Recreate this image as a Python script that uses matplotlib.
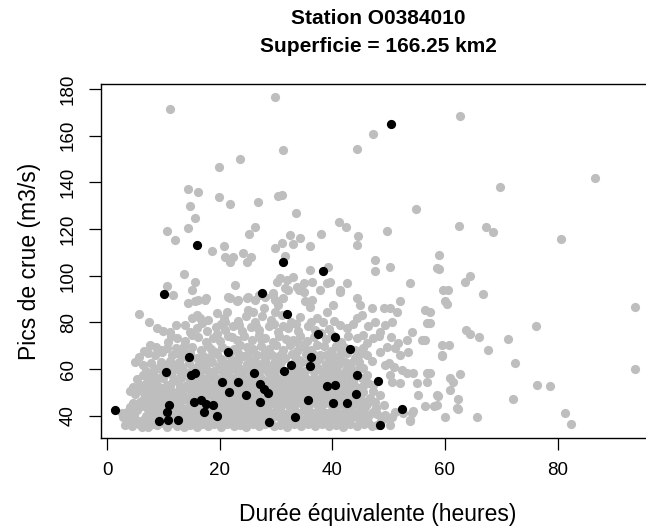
import matplotlib
matplotlib.use('Agg')
import matplotlib.pyplot as plt

# black points (highlighted events)
black_x = [10.2, 27.5, 14.6, 21.5, 10.4, 14.9, 15.7, 26.1, 20.4, 23.3, 21.7, 24.7, 27.2, 27.8,
           28.5, 27.1, 1.4, 11.0, 10.7, 15.5, 16.7, 17.5, 18.9, 17.2, 19.6, 9.3, 10.9, 12.6,
           28.8, 31.3, 38.4, 32.0, 37.4, 40.4, 43.1, 36.2, 36.0, 32.6, 31.4, 44.4, 48.1, 39.0,
           40.4, 35.6, 44.2, 40.1, 42.6, 52.3, 33.4, 48.4, 50.4, 16.0]
black_y = [92.4, 92.7, 65.3, 67.5, 58.8, 57.4, 58.3, 58.3, 54.4, 54.4, 50.4, 48.9, 53.6, 51.4,
           49.7, 45.9, 42.7, 44.6, 41.7, 45.9, 46.7, 45.1, 44.6, 41.7, 40.1, 37.7, 38.2, 38.4,
           37.5, 106.1, 102.2, 83.7, 75.0, 73.7, 68.8, 65.1, 61.5, 61.7, 59.1, 57.4, 55.0, 52.8,
           53.4, 46.9, 49.3, 45.3, 45.7, 42.9, 39.7, 36.0, 165.2, 113.4]

# grey points, listed by rough height band
gray_row_a = [(3.2, 36.1), (4.4, 35.6), (5.6, 36.4), (6.2, 35.4), (7.3, 35.4), (8.3, 36.6), (8.8, 36.1),
              (10.6, 35.4), (11.6, 36.8), (12.4, 35.5), (13.6, 35.4), (14.7, 36.1), (15.9, 35.4),
              (16.8, 36.5), (17.9, 35.6), (19.0, 36.3), (20.2, 35.4), (21.3, 36.7), (22.5, 35.7),
              (23.6, 36.2), (24.7, 35.4), (25.9, 36.6), (27.0, 35.6), (28.1, 36.4), (29.6, 35.5),
              (30.8, 36.2), (32.0, 35.4), (33.2, 36.5), (34.5, 35.7), (35.7, 36.3), (36.9, 35.5),
              (38.2, 36.6), (39.4, 35.6), (40.6, 36.2), (41.9, 35.4), (43.1, 36.4), (44.4, 35.7),
              (45.7, 36.5), (47.0, 35.5), (47.9, 36.1), (50.3, 36.1), (53.8, 37.6), (82.4, 36.4)]
gray_row_b = [(2.9, 39.7), (4.1, 39.0), (5.2, 38.0), (6.4, 38.3), (7.6, 39.0), (9.0, 38.6), (10.2, 39.3),
              (12.4, 37.6), (13.4, 39.2), (14.2, 38.3), (15.4, 39.0), (16.6, 38.0), (17.8, 39.4),
              (18.9, 38.2), (20.4, 38.9), (21.7, 37.9), (22.9, 39.3), (24.1, 38.3), (25.4, 39.1),
              (26.6, 38.0), (27.9, 39.4), (29.2, 38.6), (30.5, 39.5), (31.7, 38.1), (32.9, 38.9),
              (34.2, 38.3), (35.5, 39.3), (36.8, 38.0), (38.0, 39.0), (39.3, 38.4), (40.7, 39.4),
              (42.0, 38.2), (43.3, 39.1), (44.7, 38.5), (46.0, 39.5), (49.4, 39.0), (50.6, 39.7),
              (53.8, 38.3), (60.0, 39.7), (65.7, 39.6), (81.4, 41.2)]
gray_row_c = [(3.6, 41.8), (5.3, 42.6), (7.1, 43.3), (8.0, 41.2), (9.2, 42.4), (12.0, 41.0), (13.0, 42.5),
              (13.6, 42.6), (14.5, 41.5), (15.8, 42.8), (16.4, 40.9), (18.2, 42.3), (19.2, 41.3),
              (20.6, 42.7), (21.9, 41.0), (23.0, 42.2), (24.3, 41.5), (25.6, 42.8), (26.5, 40.8),
              (28.0, 42.0), (29.3, 41.2), (30.4, 42.6), (31.6, 40.9), (32.8, 42.3), (34.1, 41.2),
              (35.3, 42.7), (36.6, 41.0), (37.8, 42.4), (39.1, 41.4), (40.3, 42.8), (41.6, 40.9),
              (42.9, 42.1), (44.0, 41.3), (45.4, 42.5), (47.3, 41.8), (49.4, 40.4), (51.2, 41.8),
              (52.6, 41.2), (54.2, 41.2), (54.4, 42.1), (62.4, 43.0)]
gray_row_d = [(4.7, 45.4), (6.4, 46.9), (8.2, 45.4), (9.7, 44.0), (12.4, 46.1), (13.0, 44.3), (14.2, 46.9),
              (15.0, 44.0), (16.2, 45.8), (17.5, 43.7), (18.7, 45.6), (20.0, 44.2), (21.2, 45.9),
              (22.5, 43.9), (23.7, 45.4), (25.0, 44.1), (26.2, 45.7), (27.4, 43.8), (28.7, 45.2),
              (30.0, 44.0), (31.2, 45.8), (32.4, 44.2), (33.7, 45.5), (35.0, 43.9), (36.2, 45.3),
              (37.4, 44.0), (38.7, 45.7), (39.9, 44.3), (41.2, 45.6), (42.3, 43.9), (43.6, 45.2),
              (44.8, 44.2), (46.2, 45.0), (49.1, 44.7), (56.4, 44.3), (58.0, 44.0), (58.6, 44.7),
              (62.2, 43.3)]
gray_row_e = [(7.2, 48.5), (9.4, 47.6), (11.0, 48.8), (12.2, 47.2), (13.5, 48.9), (14.8, 47.6),
              (16.0, 48.8), (17.3, 47.5), (18.5, 49.0), (19.8, 47.8), (21.0, 49.2), (22.3, 47.4),
              (23.5, 48.8), (25.8, 47.6), (27.2, 48.0), (28.3, 47.3), (29.6, 49.0), (30.8, 47.6),
              (32.1, 48.9), (33.3, 47.2), (34.6, 48.8), (35.8, 47.5), (37.1, 49.1), (38.3, 47.6),
              (39.6, 48.7), (40.8, 47.4), (42.1, 48.9), (43.4, 47.5), (44.6, 48.9), (46.7, 47.6),
              (48.5, 49.0), (55.3, 49.0), (58.6, 49.0), (58.8, 48.6), (62.3, 47.3), (72.1, 47.2)]
gray_row_f = [(4.1, 50.7), (5.5, 51.5), (7.6, 51.9), (9.0, 50.3), (10.3, 51.7), (11.5, 50.2), (12.4, 50.4),
              (13.6, 51.9), (14.9, 50.5), (16.1, 52.0), (17.4, 50.3), (18.6, 51.8), (19.9, 50.6),
              (21.1, 52.2), (22.4, 50.8), (23.6, 52.0), (24.9, 51.0), (26.1, 52.3), (27.3, 50.4),
              (29.7, 51.7), (30.9, 50.2), (32.2, 51.9), (33.4, 50.5), (34.7, 52.1), (35.9, 50.3),
              (37.2, 51.8), (38.4, 50.6), (39.7, 51.9), (40.9, 50.4), (42.2, 51.8), (43.4, 50.7),
              (44.6, 52.0), (60.9, 51.1), (76.4, 53.0), (78.6, 52.8)]
gray_row_g = [(5.9, 53.3), (7.1, 54.7), (8.5, 53.9), (10.6, 53.3), (11.8, 54.9), (14.2, 53.3), (15.3, 53.3),
              (16.5, 54.8), (17.8, 53.2), (19.1, 55.0), (21.7, 53.5), (23.0, 55.3), (24.3, 53.1),
              (25.6, 55.0), (26.9, 55.5), (28.9, 53.6), (30.1, 55.2), (31.3, 53.3), (32.6, 54.9),
              (33.8, 53.2), (35.1, 55.1), (36.3, 53.5), (37.6, 55.0), (38.8, 53.9), (41.6, 54.7),
              (42.9, 53.5), (46.4, 54.2), (47.3, 53.3), (50.6, 54.7), (52.0, 54.0), (55.0, 54.0),
              (56.8, 54.7), (60.9, 56.0), (61.5, 54.4)]
gray_row_h = [(6.4, 57.6), (8.2, 57.9), (9.6, 56.5), (11.3, 58.0), (12.7, 56.3), (13.9, 58.6), (16.9, 56.2),
              (18.2, 57.8), (19.4, 56.4), (20.7, 58.2), (21.9, 56.6), (23.2, 58.0), (24.4, 56.3),
              (25.7, 57.6), (27.2, 56.8), (28.6, 58.9), (29.9, 57.0), (32.4, 56.4), (33.7, 58.3),
              (35.0, 56.5), (36.8, 58.6), (38.1, 56.7), (39.4, 58.4), (40.7, 56.9), (42.0, 58.1),
              (43.1, 56.4), (46.1, 57.6), (50.3, 57.6), (53.2, 58.3), (54.4, 58.3), (56.8, 58.3),
              (57.4, 58.3), (62.6, 57.9)]
gray_row_i = [(5.0, 63.0), (9.1, 60.4), (10.5, 61.8), (12.1, 61.8), (13.3, 61.1), (14.5, 62.8), (15.7, 60.5),
              (17.0, 60.0), (19.8, 61.5), (21.0, 60.2), (22.3, 62.0), (23.5, 60.6), (24.8, 62.4),
              (26.0, 60.8), (27.3, 62.1), (28.6, 60.3), (29.8, 62.5), (30.6, 60.5), (33.5, 60.2),
              (34.6, 62.9), (37.5, 60.6), (38.8, 62.4), (40.0, 60.3), (41.2, 62.1), (42.4, 59.8),
              (45.5, 60.4), (49.4, 61.8), (50.0, 62.6), (50.9, 61.1), (52.3, 59.7), (72.5, 62.7)]
gray_row_j = [(5.6, 65.4), (7.3, 66.9), (11.5, 66.1), (12.4, 66.9), (13.3, 65.4), (15.9, 64.7), (17.0, 65.8),
              (20.2, 64.5), (21.6, 66.2), (22.9, 64.0), (24.1, 65.6), (25.4, 63.8), (26.6, 65.9),
              (28.0, 64.3), (29.3, 66.0), (31.6, 64.6), (32.8, 66.3), (34.1, 64.1), (35.4, 66.4),
              (37.6, 64.5), (38.9, 66.0), (40.2, 63.9), (41.3, 65.7), (44.0, 64.8), (47.0, 63.3),
              (46.1, 66.1), (52.0, 66.1), (59.4, 66.1), (59.5, 65.7)]
gray_row_k = [(7.6, 70.4), (8.7, 69.7), (10.6, 69.0), (10.9, 71.8), (14.7, 66.9), (15.0, 69.7), (16.6, 68.2),
              (17.9, 69.9), (19.2, 67.5), (22.6, 68.8), (23.6, 70.3), (26.0, 68.6), (27.4, 70.1),
              (31.3, 68.4), (32.5, 70.2), (33.8, 67.8), (35.0, 69.6), (36.3, 68.1), (38.5, 69.9),
              (39.8, 67.9), (42.0, 69.4), (44.0, 68.2), (48.5, 67.5), (49.7, 69.7), (51.2, 69.0),
              (53.5, 67.5), (59.4, 70.4), (60.7, 70.5), (67.7, 68.3)]
gray_row_l = [(12.4, 73.2), (13.9, 72.1), (16.2, 73.8), (17.5, 71.6), (18.9, 73.5), (20.1, 72.0),
              (21.4, 74.3), (23.0, 72.6), (24.4, 74.0), (25.7, 72.3), (28.1, 73.5), (29.4, 71.7),
              (30.6, 74.2), (33.0, 72.5), (34.3, 74.4), (35.5, 72.0), (38.8, 72.8), (41.6, 71.5),
              (44.4, 73.3), (46.1, 71.1), (47.3, 73.3), (51.7, 71.1), (53.2, 72.5), (55.9, 72.5),
              (56.5, 72.5), (64.5, 75.0), (66.0, 73.8), (71.2, 73.1)]
gray_row_m = [(8.8, 77.6), (10.0, 76.5), (11.2, 76.1), (14.7, 76.1), (15.9, 77.6), (13.9, 79.0), (17.8, 76.4),
              (19.3, 78.2), (21.0, 76.8), (22.4, 78.5), (24.0, 76.2), (25.5, 78.0), (27.0, 76.6),
              (28.8, 78.4), (30.3, 76.1), (32.2, 77.8), (33.9, 76.5), (35.7, 78.6), (37.0, 76.9),
              (39.5, 77.3), (41.4, 79.0), (42.6, 77.6), (48.5, 76.1), (49.4, 79.0), (54.1, 76.1),
              (63.8, 76.8), (76.1, 78.4)]
gray_row_n = [(7.5, 80.0), (5.7, 83.8), (15.0, 81.8), (15.9, 83.3), (16.5, 81.8), (18.0, 81.1), (19.5, 84.0),
              (20.7, 81.8), (21.0, 80.4), (21.3, 84.7), (23.2, 80.6), (24.6, 82.6), (26.2, 80.3),
              (27.6, 82.9), (29.1, 80.9), (31.0, 83.0), (32.6, 80.2), (34.3, 82.5), (37.2, 81.8),
              (38.4, 80.4), (39.0, 84.7), (44.4, 81.8), (45.2, 83.3), (47.6, 80.4), (50.6, 80.4),
              (51.5, 84.7), (56.8, 79.7), (57.4, 84.7), (57.4, 79.7), (60.4, 88.1)]
gray_row_o = [(14.4, 88.3), (15.6, 89.0), (11.7, 91.8), (16.2, 89.7), (17.4, 89.7), (17.6, 90.4),
              (21.5, 91.1), (21.8, 90.4), (23.0, 89.0), (23.3, 89.7), (24.8, 90.4), (25.1, 91.1),
              (25.1, 85.4), (26.0, 84.7), (26.3, 89.7), (26.9, 91.8), (27.8, 86.1), (28.1, 91.1),
              (29.5, 91.8), (29.5, 92.5), (29.8, 84.7), (29.8, 89.7), (30.4, 87.5), (31.3, 90.4),
              (35.2, 89.0), (36.1, 86.8), (40.2, 87.5), (36.4, 89.7), (44.4, 90.4), (44.9, 87.5),
              (47.0, 86.1), (49.1, 86.1), (50.3, 86.1), (52.0, 89.0), (56.5, 85.4), (60.0, 89.0),
              (60.5, 93.8), (66.8, 92.4)]
gray_row_p = [(10.6, 95.8), (13.6, 100.8), (15.6, 97.3), (15.0, 94.0), (22.7, 96.1), (32.2, 94.0),
              (30.7, 99.0), (30.1, 97.5), (33.1, 99.7), (31.9, 98.2), (33.7, 95.4), (31.6, 94.7),
              (34.9, 96.8), (36.4, 97.5), (34.9, 93.2), (34.0, 94.0), (37.8, 94.0), (39.6, 97.5),
              (39.0, 96.8), (41.4, 94.0), (42.6, 96.8), (41.4, 93.2), (36.1, 102.5), (39.3, 103.9),
              (47.6, 106.8), (50.3, 103.9), (47.6, 102.2), (53.8, 97.1), (58.6, 103.3), (59.7, 94.0),
              (63.5, 97.3), (64.5, 100.0), (93.7, 86.7), (93.7, 60.1)]
gray_upper = [(11.2, 171.3), (23.6, 150.1), (19.9, 146.5), (14.4, 137.3), (16.2, 136.1), (19.8, 133.9),
              (21.8, 130.8), (26.8, 131.6), (14.7, 129.9), (15.6, 124.8), (14.4, 120.6), (26.2, 120.9),
              (25.2, 118.1), (10.7, 119.2), (12.1, 115.4), (18.6, 110.8), (20.8, 112.8), (22.3, 108.2),
              (24.2, 109.7), (25.5, 108.2), (21.0, 108.2), (21.8, 106.1), (24.8, 106.1),
              (29.9, 176.5), (47.2, 160.9), (31.3, 153.9), (44.4, 154.2), (30.4, 134.3), (31.0, 134.6),
              (33.5, 126.8), (54.8, 128.5), (41.2, 123.1), (42.4, 120.9), (49.7, 119.4), (38.0, 118.1),
              (32.5, 117.4), (34.3, 116.1), (31.1, 114.0), (29.9, 111.8), (33.1, 113.7), (36.1, 112.8),
              (44.6, 117.1), (44.3, 113.1), (59.0, 109.1), (31.6, 108.7),
              (62.6, 168.5), (86.7, 142.1), (69.8, 137.9), (62.5, 121.5), (67.3, 121.1), (68.6, 118.7),
              (80.6, 115.7), (58.9, 103.0)]

# extra grey points filling the dense core between the bands above
gray_fill_1 = [(3.8, 37.3), (5.9, 37.1), (7.8, 37.4), (9.9, 37.0), (11.9, 37.3), (13.1, 37.8), (15.3, 37.2),
               (17.2, 37.5), (19.6, 37.1), (21.0, 37.4), (23.1, 37.0), (24.9, 37.6), (26.3, 37.2),
               (28.8, 37.1), (31.2, 37.4), (33.8, 37.1), (35.1, 37.5), (37.5, 37.2), (39.9, 37.3),
               (41.3, 37.6), (42.6, 37.1), (44.9, 37.4), (46.4, 37.2), (48.6, 37.9)]
gray_fill_2 = [(2.6, 41.0), (4.8, 40.3), (6.9, 40.1), (8.6, 40.5), (10.8, 40.0), (11.4, 40.8), (13.9, 40.2),
               (15.2, 40.6), (17.0, 40.1), (18.5, 40.7), (20.0, 40.0), (21.3, 40.5), (22.7, 40.2),
               (24.0, 40.6), (25.1, 40.0), (27.3, 40.4), (28.7, 40.1), (30.0, 40.7), (31.1, 40.2),
               (32.3, 40.5), (33.6, 40.0), (35.9, 40.4), (37.2, 40.1), (38.5, 40.6), (39.9, 40.0),
               (41.0, 40.5), (42.5, 40.1), (43.7, 40.6), (45.1, 40.2), (46.6, 40.5), (48.0, 40.9)]
gray_fill_3 = [(4.0, 43.6), (6.0, 44.1), (8.6, 43.0), (10.3, 43.4), (11.6, 42.9), (14.0, 43.1), (16.9, 43.2),
               (19.5, 43.0), (21.7, 43.3), (24.0, 43.0), (26.0, 43.4), (28.4, 43.1), (30.8, 43.4),
               (33.2, 43.0), (35.6, 43.3), (38.0, 43.0), (40.6, 43.4), (43.0, 43.1), (45.8, 43.6),
               (47.8, 43.3)]
gray_fill_4 = [(5.8, 46.0), (7.5, 46.6), (9.0, 46.3), (10.4, 46.8), (11.3, 45.3), (13.4, 46.6), (15.4, 47.1),
               (17.0, 46.4), (19.3, 46.7), (20.6, 46.1), (22.0, 46.8), (23.0, 46.3), (24.2, 47.0),
               (25.6, 46.4), (27.8, 46.7), (29.3, 46.2), (30.6, 46.9), (32.0, 46.5), (33.0, 47.0),
               (34.4, 46.3), (36.9, 46.8), (38.0, 46.2), (39.3, 46.9), (40.5, 46.5), (42.0, 47.1),
               (43.0, 46.4), (44.2, 46.9), (45.4, 46.2), (47.5, 45.9)]
gray_fill_5 = [(5.0, 49.3), (6.5, 49.9), (8.3, 49.5), (9.9, 49.9), (11.8, 49.3), (13.0, 49.9), (15.4, 49.6),
               (16.8, 49.2), (18.0, 50.0), (19.2, 49.4), (20.5, 49.9), (23.0, 49.6), (24.1, 50.3),
               (25.9, 49.5), (28.9, 50.0), (30.2, 49.3), (31.5, 49.8), (32.8, 49.4), (34.0, 49.9),
               (35.2, 49.1), (36.6, 49.7), (37.8, 49.3), (39.0, 49.8), (40.2, 49.2), (41.5, 49.8),
               (42.8, 49.3), (43.9, 49.9), (45.5, 50.2), (47.2, 50.6)]
gray_fill_6 = [(4.7, 52.4), (6.6, 52.8), (9.3, 52.5), (11.1, 52.6), (12.9, 52.9), (14.6, 52.3), (16.8, 52.6),
               (19.3, 52.6), (20.3, 53.3), (22.6, 52.9), (24.1, 52.6), (25.2, 53.5), (27.9, 52.5),
               (29.3, 52.8), (30.5, 52.3), (31.8, 52.9), (33.1, 52.4), (34.4, 53.0), (35.6, 52.5),
               (36.9, 53.1), (38.0, 52.4), (40.0, 52.0), (41.3, 52.7), (42.6, 52.3), (43.8, 53.0),
               (45.5, 52.6)]
gray_fill_7 = [(5.3, 55.8), (7.3, 56.2), (8.9, 55.6), (10.0, 56.0), (12.0, 55.4), (13.2, 56.1), (14.8, 55.6),
               (16.0, 56.3), (17.3, 55.6), (18.6, 56.1), (20.0, 55.7), (21.2, 56.0), (22.4, 55.5),
               (24.0, 55.9), (26.2, 56.0), (27.7, 55.5), (29.0, 56.0), (30.5, 55.6), (31.7, 56.4),
               (33.0, 55.8), (34.2, 56.2), (35.5, 55.7), (36.8, 56.2), (38.0, 55.5), (39.4, 56.0),
               (40.4, 55.4), (41.8, 56.0), (43.7, 55.3), (45.2, 56.0)]
gray_fill_8 = [(7.0, 59.2), (8.4, 59.6), (10.0, 59.0), (11.7, 59.5), (13.0, 59.1), (15.1, 59.8), (16.5, 59.3),
               (17.8, 59.7), (19.0, 59.2), (20.3, 59.6), (21.7, 59.3), (23.0, 59.8), (24.4, 59.2),
               (25.6, 59.7), (27.0, 59.4), (28.1, 59.9), (29.5, 59.3), (31.0, 59.7), (32.4, 59.2),
               (34.0, 59.6), (35.2, 59.2), (37.0, 59.5), (38.2, 59.1), (39.5, 59.7), (40.9, 59.3),
               (43.6, 59.4), (44.8, 60.3)]
gray_fill_9 = [(6.4, 61.6), (7.8, 62.6), (9.5, 63.2), (11.2, 63.5), (12.8, 63.2), (16.3, 62.7), (17.5, 62.2),
               (18.7, 63.2), (20.6, 63.0), (21.8, 62.8), (23.3, 63.3), (26.2, 62.9), (28.2, 62.8),
               (29.8, 63.4), (30.9, 63.0), (33.2, 62.8), (35.8, 63.0), (37.0, 62.6), (39.5, 63.2),
               (42.2, 63.0), (43.4, 62.5), (44.8, 62.9)]
gray_fill_10 = [(6.5, 67.6), (8.6, 66.2), (9.8, 67.4), (13.5, 67.9), (18.3, 65.4), (19.6, 66.3), (23.2, 66.8),
                (25.0, 66.4), (27.9, 66.7), (30.5, 65.5), (31.0, 66.9), (33.4, 65.8), (36.5, 66.6),
                (37.9, 65.9), (40.0, 66.3), (42.6, 66.9), (44.9, 66.6)]
gray_fill_11 = [(9.5, 68.2), (12.2, 68.9), (13.6, 70.1), (18.5, 68.6), (20.4, 69.4), (21.3, 68.0),
                (24.8, 69.5), (28.7, 68.6), (30.0, 70.5), (34.1, 70.7), (37.2, 70.5), (40.7, 70.1),
                (41.3, 68.5), (45.5, 69.0)]
gray_fill_12 = [(11.4, 74.1), (15.1, 74.5), (19.6, 74.9), (22.2, 73.7), (26.9, 74.6), (27.4, 72.8),
                (31.7, 73.0), (36.7, 73.9), (38.0, 75.4), (40.0, 74.6), (42.7, 74.2), (45.4, 74.8),
                (48.3, 74.4), (50.5, 73.6)]
gray_fill_13 = [(12.2, 78.8), (16.9, 79.6), (20.2, 79.3), (23.5, 78.9), (26.4, 78.6), (29.6, 79.5),
                (31.3, 78.7), (33.6, 79.3), (36.3, 80.0), (40.3, 80.6), (43.6, 79.2), (46.3, 78.5)]

gray_pts = (gray_row_a + gray_row_b + gray_row_c + gray_row_d + gray_row_e + gray_row_f
            + gray_row_g + gray_row_h + gray_row_i + gray_row_j + gray_row_k + gray_row_l
            + gray_row_m + gray_row_n + gray_row_o + gray_row_p + gray_upper
            + gray_fill_1 + gray_fill_2 + gray_fill_3 + gray_fill_4 + gray_fill_5 + gray_fill_6
            + gray_fill_7 + gray_fill_8 + gray_fill_9 + gray_fill_10 + gray_fill_11
            + gray_fill_12 + gray_fill_13)
gray_x = [p[0] for p in gray_pts]
gray_y = [p[1] for p in gray_pts]

x_ticks = [0, 20, 40, 60, 80]
y_ticks = [40, 60, 80, 100, 120, 140, 160, 180]

plt.rcParams['font.family'] = ['Liberation Sans', 'DejaVu Sans']

W, H = 646, 527
fig = plt.figure(figsize=(W / 100, H / 100), dpi=100)
# plot region: box from x=101 to ~655 px (cut at the right edge), y from 84 to 438 px
ax = fig.add_axes([101 / W, (H - 438) / H, 554 / W, 354 / H])

ax.scatter(gray_x, gray_y, s=44, color='#bebebe', linewidths=0, zorder=2)
ax.scatter(black_x, black_y, s=44, color='black', linewidths=0, zorder=3)

ax.set_xlim(-1.07, 97.3)
ax.set_ylim(30.5, 182.2)
ax.set_xticks(x_ticks)
ax.set_yticks(y_ticks)
ax.set_yticklabels([str(v) for v in y_ticks], rotation=90, va='center')
ax.tick_params(axis='both', direction='out', length=8.5, width=0.9, labelsize=13.5, pad=9)
for sp in ax.spines.values():
    sp.set_linewidth(1.0)

ax.set_xlabel('Durée équivalente (heures)', fontsize=16.5, va='center')
ax.xaxis.set_label_coords((378 - 101) / 554, -(515 - 438) / 354)
ax.set_ylabel('Pics de crue (m3/s)', fontsize=16.5, va='center')
ax.yaxis.set_label_coords(-(101 - 30) / 554, 0.5)

fig.text(378 / W, 1 - 19 / H, 'Station O0384010', ha='center', va='center',
         fontsize=15, fontweight='bold')
fig.text(378 / W, 1 - 47 / H, 'Superficie = 166.25 km2', ha='center', va='center',
         fontsize=15, fontweight='bold')

fig.savefig('out.png', dpi=100)
